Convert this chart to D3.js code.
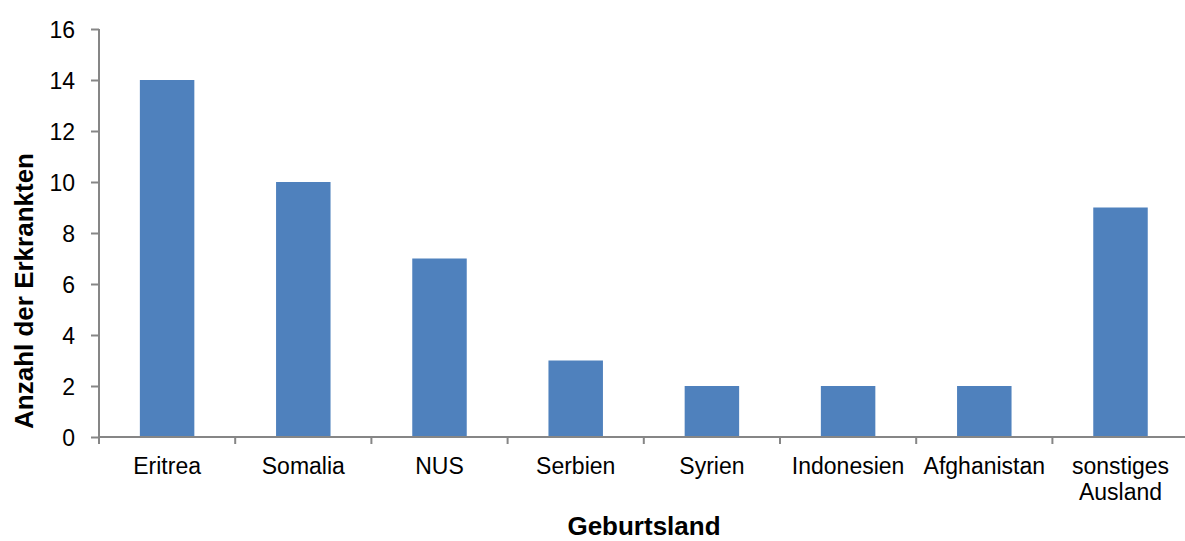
<!DOCTYPE html>
<html>
<head>
<meta charset="utf-8">
<script src="https://cdn.jsdelivr.net/npm/d3@7"></script>
<style>
  body { margin: 0; background: #fff; }
  text { font-family: "Liberation Sans", Arial, sans-serif; fill: #000; }
</style>
</head>
<body>
<div id="chart"></div>
<script>
//Datos
const laender = ['Eritrea', 'Somalia', 'NUS', 'Serbien', 'Syrien', 'Indonesien', 'Afghanistan', 'sonstiges Ausland'];
const erkrankte = [14, 10, 7, 3, 2, 2, 2, 9];
const yTicks = [0, 2, 4, 6, 8, 10, 12, 14, 16];

const COLOR_BAR = '#4F81BD', COLOR_AXIS = '#868686';

const W = 1185, H = 541;
const plotLeft = 99, plotTop = 29, plotBottom = 437, step = 136.2;

let svg = d3.select('#chart').append('svg')
    .attr('width', W).attr('height', H);

let x = d3.scaleBand()
    .domain(laender)
    .range([plotLeft, plotLeft + step * laender.length])
    .paddingInner(0.6)
    .paddingOuter(0.3);

let y = d3.scaleLinear()
    .domain([0, 16])
    .range([plotBottom, plotTop]);

//Balken
svg.append('g')
    .selectAll('rect')
    .data(laender)
    .enter()
    .append('rect')
        .attr('x', d => x(d))
        .attr('y', (d, i) => y(erkrankte[i]))
        .attr('width', x.bandwidth())
        .attr('height', (d, i) => y(0) - y(erkrankte[i]))
        .attr('fill', COLOR_BAR);

//Y-Achse
let yAxis = svg.append('g')
    .attr('transform', 'translate(' + plotLeft + ',0)')
    .call(d3.axisLeft(y).tickValues(yTicks).tickSize(8).tickPadding(16));
yAxis.select('.domain').remove();
yAxis.selectAll('line').attr('stroke', COLOR_AXIS).attr('stroke-width', 2);
yAxis.selectAll('text').style('font-size', '23px').attr('dy', '0.35em');
svg.append('line')
    .attr('x1', plotLeft).attr('x2', plotLeft)
    .attr('y1', plotTop).attr('y2', plotBottom)
    .attr('stroke', COLOR_AXIS).attr('stroke-width', 2);

//X-Achse
svg.append('line')
    .attr('x1', plotLeft).attr('x2', W)
    .attr('y1', plotBottom).attr('y2', plotBottom)
    .attr('stroke', COLOR_AXIS).attr('stroke-width', 2);

svg.append('g')
    .selectAll('line')
    .data(d3.range(laender.length + 1))
    .enter()
    .append('line')
        .attr('x1', i => plotLeft + i * x.step())
        .attr('x2', i => plotLeft + i * x.step())
        .attr('y1', plotBottom).attr('y2', plotBottom + 7)
        .attr('stroke', COLOR_AXIS).attr('stroke-width', 2);

let labels = svg.append('g')
    .selectAll('text')
    .data(laender)
    .enter()
    .append('text')
        .attr('text-anchor', 'middle')
        .style('font-size', '23px')
        .attr('transform', d => 'translate(' + (x(d) + x.bandwidth() / 2) + ',474)');

labels.each(function(d) {
    let lines = d === 'sonstiges Ausland' ? ['sonstiges', 'Ausland'] : [d];
    d3.select(this).selectAll('tspan')
        .data(lines)
        .enter()
        .append('tspan')
            .attr('x', 0)
            .attr('y', (l, j) => j * 26)
            .text(l => l);
});

//Achsentitel
svg.append('text')
    .attr('x', 644).attr('y', 535)
    .attr('text-anchor', 'middle')
    .style('font-size', '26px')
    .style('font-weight', 'bold')
    .text('Geburtsland');

svg.append('text')
    .attr('transform', 'translate(33,291) rotate(-90)')
    .attr('text-anchor', 'middle')
    .style('font-size', '26px')
    .style('font-weight', 'bold')
    .text('Anzahl der Erkrankten');
</script>
</body>
</html>
